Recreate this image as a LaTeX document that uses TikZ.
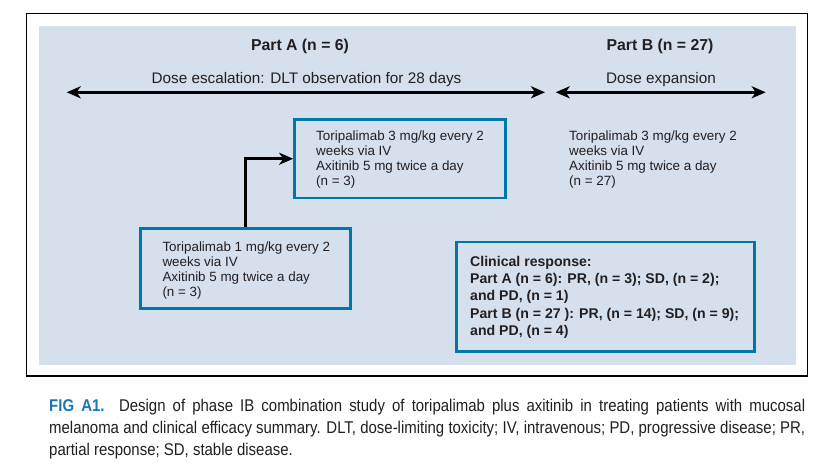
\documentclass[tikz,border=0pt]{standalone}
\usepackage{fontspec}
\setmainfont{Liberation Sans}
\newfontfamily\capfont[FakeStretch=0.88]{Liberation Sans}
\usetikzlibrary{arrows.meta}
\definecolor{panel}{HTML}{D6DFEC}
\definecolor{boxblue}{HTML}{0077A9}
\definecolor{figblue}{HTML}{1C75B4}
\definecolor{ink}{HTML}{231F20}
\begin{document}
\begin{tikzpicture}[x=1pt,y=-1pt,
  bluebox/.style={draw=boxblue, line width=2.7pt, inner sep=0pt},
  boxtext/.style={anchor=base west, align=left, inner sep=0pt, text=ink, font=\fontsize{13.4}{15}\selectfont},
  resptext/.style={anchor=base west, align=left, inner sep=0pt, text=ink, font=\bfseries\fontsize{14.1}{17.4}\selectfont},
  headbold/.style={anchor=base, inner sep=0pt, text=ink, font=\bfseries\fontsize{15.8}{18}\selectfont},
  headreg/.style={anchor=base, inner sep=0pt, text=ink, font=\fontsize{15.3}{18}\selectfont},
  captext/.style={anchor=base west, text width=756pt, align=justify, inner sep=0pt, text=ink, font=\capfont\fontsize{17}{22}\selectfont},
  dblarrow/.style={line width=3pt, {Stealth[length=14pt,width=12pt,inset=4pt]}-{Stealth[length=14pt,width=12pt,inset=4pt]}},
  elbow/.style={line width=3pt, -{Stealth[length=14pt,width=12pt,inset=4pt]}}
]
\useasboundingbox (0,0) rectangle (829,473);
\fill[white] (0,0) rectangle (829,473);
% frame and panel
\draw[line width=1.3pt] (26.3,13.3) rectangle (807.3,376);
\fill[panel] (39,25.7) rectangle (796,365);
% headers
\node[headbold] (pa) at (300,50.7) {Part A (n = 6)};
\node[headbold] (pb) at (660,50.7) {Part B (n = 27)};
\node[headreg] (de) at (306.5,83.3) {Dose escalation: DLT observation for 28 days};
\node[headreg] (dx) at (661,83.3) {Dose expansion};
% arrows
\coordinate (a1) at (66.7,92.3);
\coordinate (a2) at (545,92.3);
\coordinate (b1) at (555.7,92.3);
\coordinate (b2) at (765.7,92.3);
\draw[dblarrow] (a1) -- (a2);
\draw[dblarrow] (b1) -- (b2);
% boxes
\node[bluebox, minimum width=211pt, minimum height=78.5pt] (top) at (400,158.75) {};
\node[bluebox, minimum width=210pt, minimum height=80pt] (bot) at (245.7,268.7) {};
\node[bluebox, minimum width=298pt, minimum height=109.3pt] (resp) at (605.7,296.7) {};
% texts (base anchor = last line baseline)
\node[boxtext] (toptext) at (316,185.5) {Toripalimab 3 mg/kg every 2\\weeks via IV\\Axitinib 5 mg twice a day\\(n = 3)};
\node[boxtext] (righttext) at (569,185.5) {Toripalimab 3 mg/kg every 2\\weeks via IV\\Axitinib 5 mg twice a day\\(n = 27)};
\node[boxtext] (bottext) at (162.3,296.5) {Toripalimab 1 mg/kg every 2\\weeks via IV\\Axitinib 5 mg twice a day\\(n = 3)};
\node[resptext] (resptxt) at (470,335.6) {Clinical response:\\Part A (n = 6): PR, (n = 3); SD, (n = 2);\\and PD, (n = 1)\\Part B (n = 27 ): PR, (n = 14); SD, (n = 9);\\and PD, (n = 4)};
% elbow connector
\draw[elbow] (bot.north) |- (top.west);
% caption
\node[captext] (cap) at (49,411)
 {{\bfseries\color{figblue}FIG A1.} Design of phase IB combination study of toripalimab plus axitinib in treating patients with mucosal\linebreak melanoma and clinical efficacy summary. DLT, dose-limiting toxicity; IV, intravenous; PD, progressive disease; PR,\linebreak partial response; SD, stable disease.};
\end{tikzpicture}
\end{document}
